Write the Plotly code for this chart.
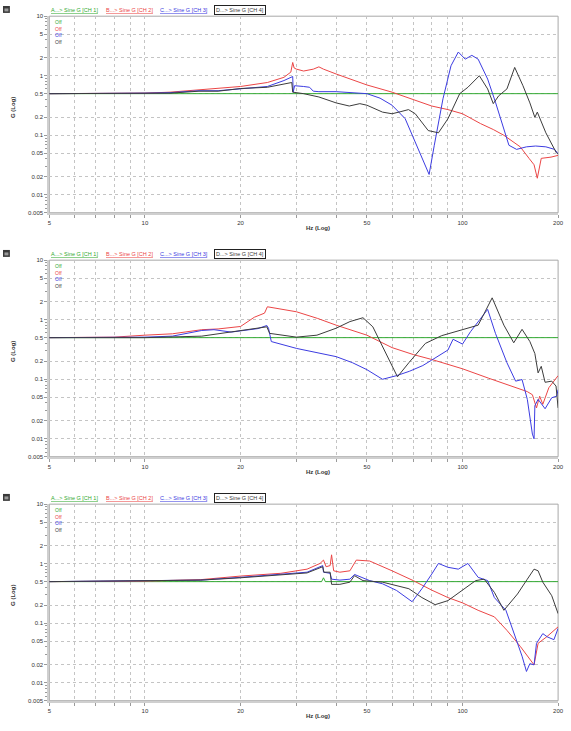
import math
import plotly.graph_objects as go

# ---------------- data (Hz, G) ----------------
# Panel 1
p1_green_f = [5, 10, 20, 30, 50, 100, 200]
p1_green_g = [0.5, 0.5, 0.5, 0.5, 0.5, 0.5, 0.5]
p1_red_f = [5, 8, 10, 12, 14.8, 17, 20, 24.3, 27.4, 28.8, 29.2, 29.5, 30, 31.6, 33.9, 35.3, 36.5, 40, 45, 50, 60, 70, 80, 90, 100, 114, 125, 135, 152, 162, 168, 172, 175, 177, 190, 200]
p1_red_g = [0.5, 0.5, 0.51, 0.53, 0.58, 0.60, 0.66, 0.77, 0.94, 1.15, 1.67, 1.35, 1.29, 1.2, 1.29, 1.41, 1.29, 1.07, 0.86, 0.70, 0.53, 0.40, 0.31, 0.27, 0.23, 0.157, 0.125, 0.10, 0.064, 0.041, 0.032, 0.019, 0.03, 0.041, 0.043, 0.046]
p1_blue_f = [5, 8, 10, 12, 14.8, 17, 20, 24.3, 27.4, 29.2, 29.3, 29.6, 31.6, 33.0, 33.9, 35.3, 40, 45, 50, 55, 60, 66, 71, 75.2, 78.5, 81.5, 86.8, 92, 97, 102, 107, 112, 120, 127, 135, 140, 148, 159, 170, 183, 195, 200]
p1_blue_g = [0.5, 0.5, 0.51, 0.52, 0.56, 0.56, 0.61, 0.66, 0.83, 0.97, 0.53, 0.68, 0.66, 0.64, 0.55, 0.54, 0.54, 0.52, 0.50, 0.42, 0.32, 0.19, 0.077, 0.036, 0.022, 0.068, 0.41, 1.47, 2.5, 1.9, 2.2, 1.9, 0.88, 0.36, 0.13, 0.068, 0.058, 0.064, 0.066, 0.064, 0.058, 0.049]
p1_black_f = [5, 8, 10, 12, 14.8, 17, 20, 24.3, 29.0, 29.2, 31.6, 35.3, 40, 44, 47.5, 50, 56, 60, 64, 67.6, 71, 78, 84, 90, 98, 104, 113, 120, 125, 130, 138, 146, 155, 163, 169, 172, 183, 197, 200]
p1_black_g = [0.5, 0.5, 0.5, 0.51, 0.55, 0.55, 0.61, 0.64, 0.77, 0.53, 0.50, 0.44, 0.35, 0.31, 0.34, 0.32, 0.245, 0.23, 0.25, 0.27, 0.23, 0.12, 0.11, 0.19, 0.50, 0.64, 1.0, 0.60, 0.34, 0.46, 0.60, 1.38, 0.68, 0.35, 0.20, 0.245, 0.11, 0.052, 0.048]

# Panel 2
p2_green_f = [5, 10, 20, 30, 50, 100, 200]
p2_green_g = [0.5, 0.5, 0.5, 0.5, 0.5, 0.5, 0.5]
p2_red_f = [5, 8, 10, 12.2, 15.1, 17, 20, 22.1, 23.8, 24.3, 30, 35, 40, 45, 50, 60, 70, 80, 90, 100, 121, 149, 160, 166, 171, 175, 179, 187, 200]
p2_red_g = [0.5, 0.51, 0.55, 0.58, 0.68, 0.70, 0.77, 1.1, 1.29, 1.65, 1.36, 1.05, 0.81, 0.66, 0.55, 0.34, 0.26, 0.215, 0.18, 0.15, 0.104, 0.072, 0.062, 0.055, 0.033, 0.052, 0.038, 0.072, 0.115]
p2_blue_f = [5, 8, 10, 12.2, 15.1, 16.5, 18.7, 22.7, 24.2, 24.5, 25.0, 30, 36.5, 40, 45, 50, 56, 62, 68, 75, 80, 90, 93.4, 96.8, 100, 106, 113, 120, 127, 138, 147, 154, 160, 166, 168, 169, 173, 182, 191, 198, 200]
p2_blue_g = [0.5, 0.5, 0.51, 0.53, 0.66, 0.68, 0.62, 0.71, 0.80, 0.72, 0.43, 0.33, 0.27, 0.24, 0.19, 0.145, 0.10, 0.115, 0.136, 0.17, 0.21, 0.31, 0.47, 0.43, 0.39, 0.63, 1.0, 1.49, 0.59, 0.19, 0.093, 0.099, 0.046, 0.012, 0.010, 0.036, 0.046, 0.032, 0.049, 0.052, 0.067]
p2_black_f = [5, 10, 15.1, 20, 23.8, 24.2, 24.7, 30, 34.8, 40, 44.2, 48.6, 52.2, 57.4, 62.4, 67.8, 76.4, 86, 100, 112, 117, 124, 135, 145, 154, 163, 169, 173, 177, 182, 191, 197, 200]
p2_black_g = [0.5, 0.5, 0.53, 0.66, 0.74, 0.76, 0.59, 0.51, 0.55, 0.72, 0.93, 1.08, 0.76, 0.27, 0.11, 0.19, 0.40, 0.54, 0.67, 0.81, 1.27, 2.33, 0.81, 0.41, 0.69, 0.43, 0.27, 0.128, 0.165, 0.089, 0.093, 0.077, 0.033]

# Panel 3
p3_green_f = [5, 10, 20, 36, 36.5, 37, 50, 100, 200]
p3_green_g = [0.5, 0.5, 0.5, 0.5, 0.58, 0.5, 0.5, 0.5, 0.5]
p3_red_f = [5, 10, 15, 20, 26.8, 32.4, 35.6, 36.5, 37.2, 38.3, 38.7, 39.3, 41.1, 44.2, 46.3, 51, 60, 70, 80, 90, 100, 112, 126, 138, 152, 163, 168, 173, 184, 200]
p3_red_g = [0.5, 0.51, 0.54, 0.62, 0.69, 0.81, 1.01, 1.15, 0.89, 0.93, 1.41, 0.76, 0.72, 0.76, 1.15, 1.11, 0.76, 0.52, 0.36, 0.27, 0.22, 0.165, 0.128, 0.076, 0.041, 0.024, 0.020, 0.046, 0.059, 0.087]
p3_blue_f = [5, 10, 15, 20, 32.4, 36.3, 36.5, 38.3, 38.7, 41.1, 44.2, 45.7, 51, 56, 62, 69.4, 74.5, 80, 84, 90, 97, 104, 112, 120, 126, 137, 145, 154, 159, 163, 168, 171, 179, 185, 194, 200]
p3_blue_g = [0.5, 0.51, 0.53, 0.59, 0.72, 0.93, 0.72, 0.69, 0.55, 0.53, 0.55, 0.66, 0.52, 0.46, 0.355, 0.23, 0.38, 0.67, 1.01, 0.87, 0.81, 1.01, 0.59, 0.52, 0.27, 0.165, 0.072, 0.028, 0.0155, 0.021, 0.020, 0.046, 0.067, 0.059, 0.053, 0.082]
p3_black_f = [5, 10, 15, 20, 32.4, 36.3, 36.6, 38.3, 38.7, 41.1, 44.2, 45.7, 48.6, 56, 67.8, 74.5, 82, 90, 99.4, 110, 117, 126, 135, 149, 160, 168, 173, 179, 191, 200]
p3_black_g = [0.5, 0.51, 0.53, 0.58, 0.70, 0.89, 0.72, 0.72, 0.45, 0.45, 0.49, 0.63, 0.52, 0.49, 0.38, 0.27, 0.205, 0.24, 0.355, 0.52, 0.55, 0.33, 0.165, 0.31, 0.55, 0.81, 0.76, 0.49, 0.29, 0.145]

# ticks
x_grid = [5, 6, 7, 8, 9, 10, 20, 30, 40, 50, 60, 70, 80, 90, 100, 200]
x_labels = ["5", "", "", "", "", "10", "20", "", "", "50", "", "", "", "", "100", "200"]
y_ticks = [0.005, 0.01, 0.02, 0.05, 0.1, 0.2, 0.5, 1, 2, 5, 10]
y_labels = ["0.005", "0.01", "0.02", "0.05", "0.1", "0.2", "0.5", "1", "2", "5", "10"]
y_minor = [0.006, 0.007, 0.008, 0.009, 0.03, 0.04, 0.06, 0.07, 0.08, 0.09,
           0.3, 0.4, 0.6, 0.7, 0.8, 0.9, 3, 4, 6, 7, 8, 9]

legend_names = ["A...> Sine G [CH 1]", "B...> Sine G [CH 2]", "C...> Sine G [CH 3]", "D...> Sine G [CH 4]"]
colors = ["rgb(50,170,50)", "rgb(235,70,70)", "rgb(60,60,225)", "rgb(60,60,60)"]

panels = [
    [(p1_green_f, p1_green_g), (p1_red_f, p1_red_g), (p1_blue_f, p1_blue_g), (p1_black_f, p1_black_g)],
    [(p2_green_f, p2_green_g), (p2_red_f, p2_red_g), (p2_blue_f, p2_blue_g), (p2_black_f, p2_black_g)],
    [(p3_green_f, p3_green_g), (p3_red_f, p3_red_g), (p3_blue_f, p3_blue_g), (p3_black_f, p3_black_g)],
]

# ---------------- layout geometry (pixels) ----------------
W, H = 571, 731
X0, X1 = 48, 564
TOP = 13.3
BOT = 211.5
STEP = 246
FONT = "Liberation Sans, Arial, sans-serif"


def fx(p):
    return p / W


def fy(p):
    return 1 - p / H


fig = go.Figure()
layout = dict(width=W, height=H, margin=dict(l=0, r=0, t=0, b=0), autosize=False,
              paper_bgcolor="white", plot_bgcolor="white", showlegend=False)
annotations = []
shapes = []

for i, series in enumerate(panels):
    sfx = "" if i == 0 else str(i + 1)
    off = STEP * i
    xa = "x" + sfx
    ya = "y" + sfx
    for (f, g), c in zip(series, colors):
        fig.add_trace(go.Scatter(x=f, y=g, mode="lines", line=dict(color=c, width=1),
                                 xaxis=xa, yaxis=ya, hoverinfo="skip"))
    layout["xaxis" + sfx] = dict(
        type="log", range=[math.log10(5), math.log10(200)], domain=[fx(X0), fx(X1)],
        anchor=ya, tickmode="array", tickvals=x_grid, ticktext=x_labels,
        showgrid=True, gridcolor="#c4c4c4", griddash="dot", gridwidth=1,
        showline=True, linecolor="#cfcfcf", linewidth=2, ticks="outside", ticklen=3,
        tickcolor="#9a9a9a", tickfont=dict(family=FONT, size=6, color="#333"),
        zeroline=False, fixedrange=True)
    layout["yaxis" + sfx] = dict(
        type="log", range=[math.log10(0.005), 1], domain=[fy(BOT + off), fy(TOP + off)],
        anchor=xa, tickmode="array", tickvals=y_ticks, ticktext=y_labels,
        showgrid=True, gridcolor="#c4c4c4", griddash="dot", gridwidth=1,
        showline=True, linecolor="#cfcfcf", linewidth=2, ticks="outside", ticklen=3,
        tickcolor="#9a9a9a", tickfont=dict(family=FONT, size=6, color="#333"),
        minor=dict(tickmode="array", tickvals=y_minor, ticks="outside", ticklen=2,
                   tickcolor="#9a9a9a", showgrid=False),
        zeroline=False, fixedrange=True)
    # plot border (top / right)
    shapes.append(dict(type="rect", xref=xa + " domain", yref=ya + " domain",
                       x0=0, x1=1, y0=0, y1=1, line=dict(color="#a8a8a8", width=1),
                       layer="below"))
    # icon
    shapes.append(dict(type="rect", xref="paper", yref="paper",
                       x0=fx(1), x1=fx(8), y0=fy(10 + off), y1=fy(3 + off),
                       fillcolor="#3a3a3a", line=dict(color="#3a3a3a", width=0)))
    shapes.append(dict(type="rect", xref="paper", yref="paper",
                       x0=fx(2.5), x1=fx(6.5), y0=fy(8.5 + off), y1=fy(5.5 + off),
                       fillcolor="#9a9a9a", line=dict(width=0)))
    # channel legend
    centers = [73.5, 129, 185, 241]
    for k, (name, c) in enumerate(zip(legend_names, colors)):
        text = name if k == 3 else "<u>" + name + "</u>"
        ann = dict(xref="paper", yref="paper", x=fx(centers[k]), y=fy(7 + off),
                   text=text, showarrow=False, xanchor="center", yanchor="middle",
                   font=dict(family=FONT, size=5.5, color=c))
        if k == 3:
            ann.update(bordercolor="#222", borderwidth=1, borderpad=1)
        annotations.append(ann)
    # Off labels
    for k, c in enumerate(colors):
        annotations.append(dict(xref="paper", yref="paper", x=fx(52), y=fy(19 + 6.8 * k + off),
                                text="Off", showarrow=False, xanchor="left", yanchor="middle",
                                font=dict(family=FONT, size=5, color=c)))
    # axis titles
    annotations.append(dict(xref="paper", yref="paper", x=fx(11), y=fy(105 + off),
                            text="<b>G (Log)</b>", showarrow=False, textangle=-90,
                            xanchor="center", yanchor="middle",
                            font=dict(family=FONT, size=6, color="#333")))
    annotations.append(dict(xref="paper", yref="paper", x=fx(306), y=fy(227 + off),
                            text="<b>Hz (Log)</b>", showarrow=False,
                            xanchor="left", yanchor="middle",
                            font=dict(family=FONT, size=6, color="#333")))

layout["annotations"] = annotations
layout["shapes"] = shapes
fig.update_layout(**layout)
fig.write_html("out.html")
